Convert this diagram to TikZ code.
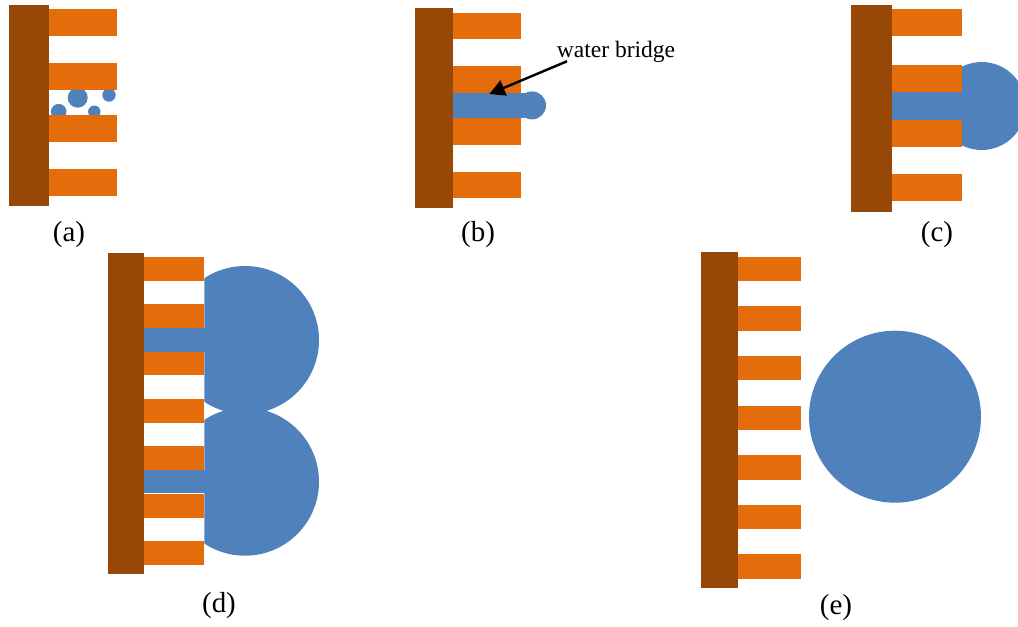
\documentclass[tikz,border=0pt]{standalone}
\usepackage{fontspec}
\setmainfont{Liberation Serif}
\usetikzlibrary{arrows.meta}
\definecolor{wallbrown}{RGB}{151,71,6}
\definecolor{pillarorange}{RGB}{228,108,10}
\definecolor{waterblue}{RGB}{79,129,189}

\begin{document}
\begin{tikzpicture}
  [x=0.02cm, y=-0.02cm,
   wall/.style={fill=wallbrown},
   pillar/.style={fill=pillarorange},
   water/.style={fill=waterblue},
   caption/.style={font=\fontsize{16.5}{18}\selectfont, anchor=base, inner sep=0pt},
   note/.style={font=\fontsize{13.4}{15}\selectfont, inner sep=0pt}]
  \useasboundingbox (0,0) rectangle (1018,626);
  \clip (0,0) rectangle (1018,626);

  % (a) small droplets between the pillars
  \fill[water] (77.7,97.7) circle (10);
  \fill[water] (109,95) circle (6.7);
  \fill[water] (58.7,111.7) circle (7.8);
  \fill[water] (94.3,111.7) circle (6.2);
  \fill[wall] (9,5) rectangle (49.3,206);
  \foreach \y in {9.3,63.3,115,169.3}
    \fill[pillar] (49.3,\y) rectangle (117,\y+26.5);
  \node[caption] (capa) at (69,241) {(a)};

  % (b)
  \fill[water] (532,105.4) circle (14);
  \fill[water] (453.3,92.8) rectangle (525,118);
  \fill[wall] (414.7,8.3) rectangle (453.3,208.3);
  \foreach \y in {12.7,66.3,118,171.7}
    \fill[pillar] (453.3,\y) rectangle (520.7,\y+26.5);
  \node[note] (bridge) at (616,51.7) {water bridge};
  \coordinate (bridgetip) at (489.3,94);
  \draw[line width=1.4pt, -{Triangle[length=3.1mm,width=3.2mm]}]
    ([xshift=0.21cm,yshift=0.03cm]bridge.south west) -- (bridgetip);
  \node[caption] (capb) at (478,241) {(b)};

  % (c)
  \fill[water] (981.7,106) circle (44);
  \fill[water] (892.3,92.3) rectangle (970,119.5);
  \fill[wall] (851,5) rectangle (892.3,212.3);
  \foreach \y in {9.3,65.3,119.5,174}
    \fill[pillar] (892.3,\y) rectangle (962.3,\y+27);
  \node[caption] (capc) at (937,241) {(c)};

  % (d) two drops growing out of the grooves
  \begin{scope}
    \clip (204.3,250) rectangle (330,570);
    \fill[water] (245,340) circle (74);
    \fill[water] (245,481.7) circle (74);
  \end{scope}
  \fill[water] (144,328.3) rectangle (230,351.7);
  \fill[water] (144,470) rectangle (230,493.3);
  \fill[wall] (108.3,253.3) rectangle (144,574.3);
  \foreach \i in {0,...,6}
    \fill[pillar] (144,256.7+47.4*\i) rectangle (204.3,280.5+47.4*\i);
  \node[caption] (capd) at (219,612) {(d)};

  % (e) detached drop
  \fill[wall] (701,252.3) rectangle (738.3,588.3);
  \foreach \i in {0,...,6}
    \fill[pillar] (738.3,256.7+49.6*\i) rectangle (800.7,281.2+49.6*\i);
  \fill[water] (895,416.7) circle (86);
  \node[caption] (cape) at (836,614) {(e)};
\end{tikzpicture}
\end{document}
